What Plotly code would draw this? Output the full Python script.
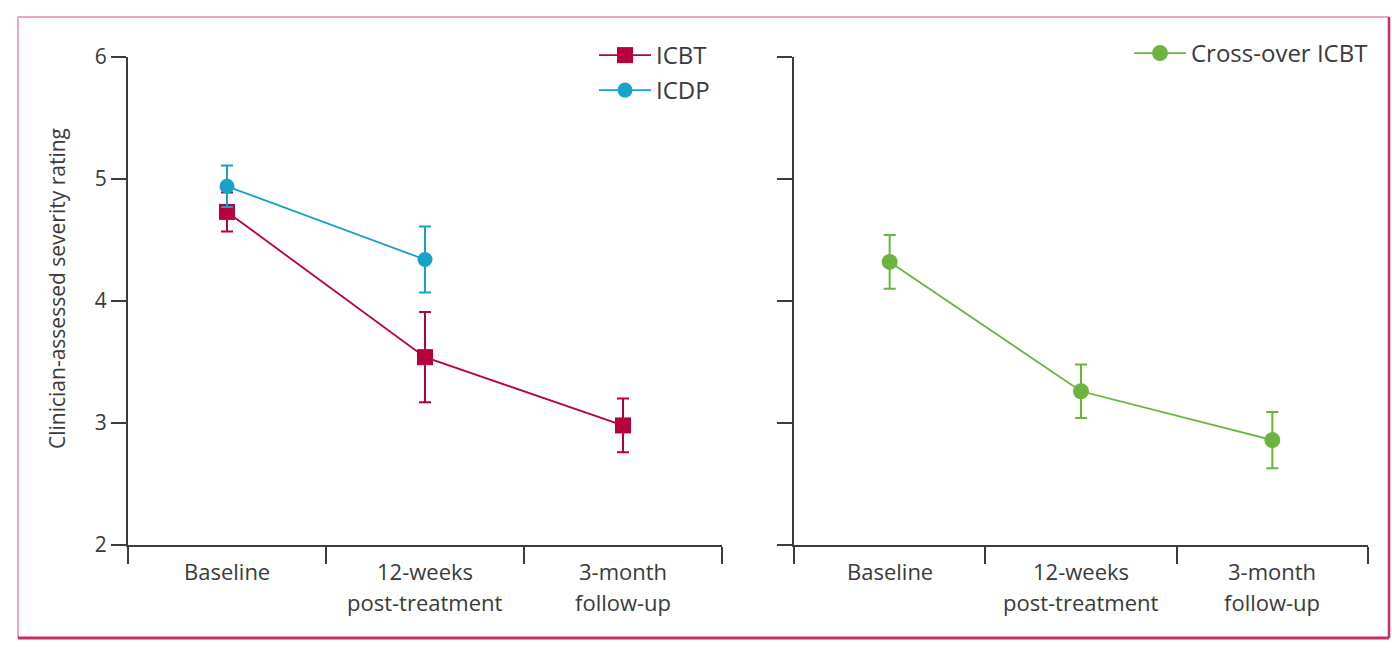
import plotly.graph_objects as go

# Assessment points (shared by both panels)
timepoints = ["Baseline", "12-weeks<br>post-treatment", "3-month<br>follow-up"]

# Left panel: randomised groups (mean and 95% CI half-width)
icbt_mean = [4.73, 3.54, 2.98]
icbt_err = [0.16, 0.37, 0.22]
icdp_mean = [4.94, 4.34]
icdp_err = [0.17, 0.27]

# Right panel: cross-over group
cross_mean = [4.32, 3.26, 2.86]
cross_err = [0.22, 0.22, 0.23]

y_ticks = [2, 3, 4, 5, 6]

RED = "#B8003F"
BLUE = "#17A2C8"
GREEN = "#6CB43F"
AXIS = "#3c3c3c"
TEXT = "#3a3a3a"
FONT = "Open Sans"

W, H = 1392, 649


def px_x(p):
    return p / W


def px_y(p):
    return 1 - p / H


fig = go.Figure()


def add_series(name, xs, ys, errs, color, symbol, size, xaxis, yaxis, legend):
    fig.add_trace(go.Scatter(
        x=xs, y=ys, name=name, mode="lines+markers",
        xaxis=xaxis, yaxis=yaxis, legend=legend,
        line=dict(color=color, width=1.8),
        marker=dict(color=color, symbol=symbol, size=size, line=dict(width=0)),
        error_y=dict(type="data", array=errs, visible=True, color=color,
                     thickness=2, width=6),
    ))


add_series("ICBT", timepoints, icbt_mean, icbt_err, RED, "square", 16, "x", "y", "legend")
add_series("ICDP", timepoints[:2], icdp_mean, icdp_err, BLUE, "circle", 15, "x", "y", "legend3")
add_series("Cross-over ICBT", timepoints, cross_mean, cross_err, GREEN, "circle", 16, "x2", "y2", "legend2")

xdom1 = [px_x(128), px_x(722)]
xdom2 = [px_x(794), px_x(1368)]
ydom = [px_y(545), px_y(57)]

xcommon = dict(
    type="category", range=[-0.5, 2.5], tickson="boundaries",
    ticks="outside", ticklen=17, tickwidth=2, tickcolor=AXIS,
    showline=True, linecolor=AXIS, linewidth=2, showgrid=False, zeroline=False,
    showticklabels=False, automargin=False, fixedrange=True,
)
ycommon = dict(
    range=[2, 6], tickvals=y_ticks,
    ticks="outside", ticklen=15, tickwidth=2, tickcolor=AXIS,
    showline=True, linecolor=AXIS, linewidth=2, showgrid=False, zeroline=False,
    tickfont=dict(family=FONT, size=21, color=TEXT),
    automargin=False, fixedrange=True,
)

legend_style = dict(xanchor="left", yanchor="top", bgcolor="rgba(0,0,0,0)",
                    itemwidth=52, tracegroupgap=0,
                    font=dict(family=FONT, size=24, color=TEXT))

fig.update_layout(
    width=W, height=H,
    margin=dict(l=0, r=0, t=0, b=0, autoexpand=False),
    paper_bgcolor="white", plot_bgcolor="white",
    font=dict(family=FONT, color=TEXT),
    xaxis=dict(domain=xdom1, anchor="y", **xcommon),
    yaxis=dict(domain=ydom, anchor="x", **ycommon),
    xaxis2=dict(domain=xdom2, anchor="y2", **xcommon),
    yaxis2=dict(domain=ydom, anchor="x2", showticklabels=False, **ycommon),
    legend=dict(x=px_x(594), y=px_y(33), **legend_style),
    legend3=dict(x=px_x(594), y=px_y(68), **legend_style),
    legend2=dict(x=px_x(1129), y=px_y(31), **legend_style),
    showlegend=True,
)

# Y-axis title
fig.add_annotation(
    text="Clinician-assessed severity rating", textangle=-90,
    xref="paper", yref="paper", x=px_x(57), y=px_y(289),
    xanchor="center", yanchor="middle", showarrow=False,
    font=dict(family=FONT, size=21, color=TEXT),
)

# Category labels under each panel, one annotation per text line
for xref in ("x", "x2"):
    for cat in timepoints:
        for j, line in enumerate(cat.split("<br>")):
            fig.add_annotation(
                text=line, xref=xref, yref="paper", x=cat, y=px_y(571 + 31 * j),
                xanchor="center", yanchor="middle", showarrow=False,
                font=dict(family=FONT, size=22, color=TEXT),
            )

# Frame around the figure
fig.add_shape(type="line", xref="paper", yref="paper",
              x0=px_x(18), x1=px_x(1389), y0=px_y(17), y1=px_y(17),
              line=dict(color="#EBA6BA", width=2))
fig.add_shape(type="line", xref="paper", yref="paper",
              x0=px_x(18), x1=px_x(18), y0=px_y(17), y1=px_y(638),
              line=dict(color="#EBA6BA", width=2))
fig.add_shape(type="line", xref="paper", yref="paper",
              x0=px_x(1389), x1=px_x(1389), y0=px_y(17), y1=px_y(638),
              line=dict(color="#C4305E", width=2.5))
fig.add_shape(type="line", xref="paper", yref="paper",
              x0=px_x(18), x1=px_x(1389), y0=px_y(638), y1=px_y(638),
              line=dict(color="#C4305E", width=3))

fig.write_html("out.html")
